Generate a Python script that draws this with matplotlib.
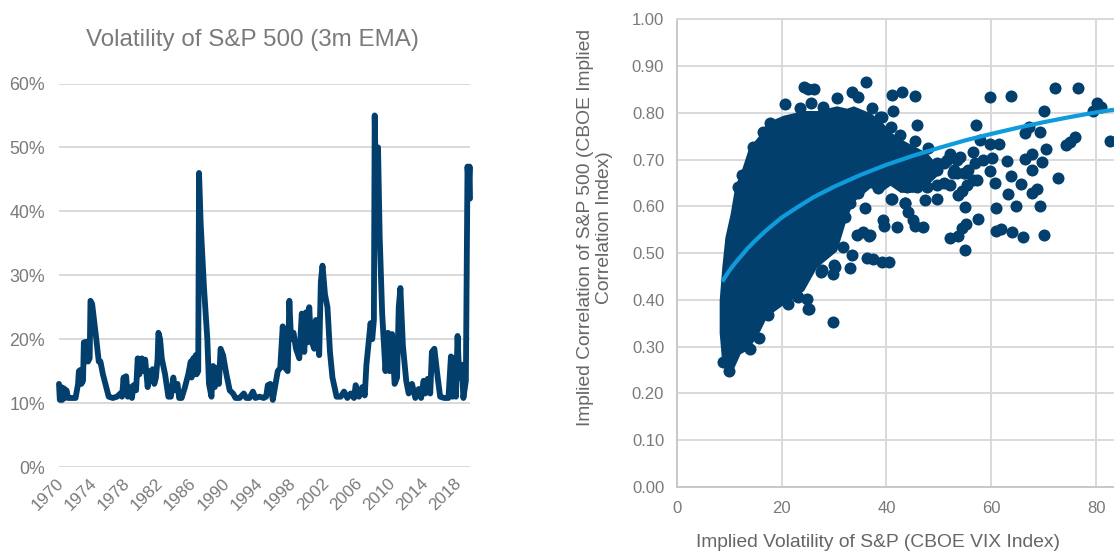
import matplotlib
matplotlib.use("Agg")
import matplotlib.pyplot as plt
from matplotlib.transforms import ScaledTranslation

plt.rcParams['font.family'] = ['Liberation Sans', 'DejaVu Sans']

NAVY = '#023f6d'
SKY = '#0f9bdc'
GRID = '#d9d9d9'
TXT = '#7a7a7a'
LAB = '#666666'

title_left = 'Volatility of S&P 500 (3m EMA)'
ylabel_right = 'Implied Correlation of S&P 500 (CBOE Implied\nCorrelation Index)'
xlabel_right = 'Implied Volatility of S&P (CBOE VIX Index)'

year_ticks = [1970, 1974, 1978, 1982, 1986, 1990, 1994, 1998, 2002, 2006, 2010, 2014, 2018]
vol_ticks = [0, 10, 20, 30, 40, 50, 60]

years = [1970.0, 1970.1, 1970.3, 1970.4, 1970.6, 1970.7, 1970.9, 1971.1, 1971.5, 1972.0, 1972.3, 1972.4, 1972.6,
         1972.7, 1972.9, 1973.0, 1973.2, 1973.3, 1973.5, 1973.7, 1973.8, 1974.0, 1974.5, 1974.8, 1975.0, 1975.3,
         1975.7, 1976.0, 1976.5, 1977.0, 1977.4, 1977.6, 1977.8, 1977.9, 1978.1, 1978.3, 1978.5, 1978.8, 1979.0,
         1979.3, 1979.5, 1979.7, 1980.0, 1980.2, 1980.4, 1980.7, 1980.9, 1981.1, 1981.3, 1981.5, 1981.7, 1981.9,
         1982.0, 1982.2, 1982.4, 1982.8, 1983.2, 1983.5, 1983.8, 1984.0, 1984.3, 1984.5, 1984.8, 1985.2, 1985.6,
         1985.9, 1986.0, 1986.2, 1986.3, 1986.5, 1986.6, 1986.8, 1986.9, 1987.1, 1987.5, 1987.9, 1988.1, 1988.4,
         1988.6, 1988.8, 1989.0, 1989.3, 1989.5, 1989.8, 1990.2, 1990.6, 1991.0, 1991.3, 1991.8, 1992.3, 1992.6,
         1993.0, 1993.4, 1993.7, 1994.2, 1994.7, 1995.0, 1995.2, 1995.5, 1995.8, 1996.0, 1996.4, 1996.7, 1997.0,
         1997.3, 1997.6, 1997.8, 1998.0, 1998.3, 1998.6, 1999.0, 1999.3, 1999.6, 1999.8, 2000.0, 2000.2, 2000.4,
         2000.8, 2001.0, 2001.4, 2001.6, 2001.8, 2002.1, 2002.4, 2002.7, 2003.0, 2003.5, 2004.0, 2004.4, 2004.8,
         2005.2, 2005.6, 2005.8, 2006.2, 2006.6, 2006.9, 2007.1, 2007.4, 2007.6, 2007.8, 2008.0, 2008.1, 2008.3,
         2008.5, 2008.7, 2009.0, 2009.4, 2009.7, 2009.9, 2010.2, 2010.5, 2010.8, 2011.0, 2011.2, 2011.5, 2011.9,
         2012.2, 2012.6, 2013.0, 2013.4, 2013.7, 2014.0, 2014.2, 2014.5, 2014.8, 2015.0, 2015.3, 2015.7, 2016.0,
         2016.5, 2017.0, 2017.3, 2017.5, 2017.7, 2017.9, 2018.1, 2018.3, 2018.6, 2018.8, 2019.1, 2019.3, 2019.45,
         2019.55, 2019.6]
vols = [13, 10.5, 12.5, 10.5, 12.3, 10.8, 12, 10.8, 10.8, 10.8, 13, 15, 15.2,
        13, 13.5, 19.5, 16.5, 19.6, 16.5, 17, 26, 25.5, 20, 16.5, 16.5, 14.5,
        12.5, 11, 10.8, 11, 11.5, 11, 14, 11.5, 14.2, 11, 12.5, 10.8, 12.8,
        12, 17, 14.5, 17, 15, 16.8, 12.5, 15, 13.5, 15.3, 13, 14, 17,
        21, 20, 17, 14.5, 11, 11, 14, 12, 13, 10.8, 10.8, 12.5, 14.5,
        16.5, 14, 17, 14.5, 17.5, 14.5, 15, 46, 38, 28, 20, 13, 11,
        15.8, 12.5, 15.5, 13, 18.5, 17.5, 14.5, 12, 11.5, 10.8, 10.8, 11.5, 10.8,
        10.8, 11.8, 10.8, 11, 10.8, 11, 12.8, 13, 10.5, 12, 15, 15.5, 22,
        15.5, 15, 26, 20, 21, 18.5, 17, 24, 18, 24.2, 19.5, 25, 20,
        18.5, 23, 17.5, 29, 31.5, 27, 25, 18, 14, 11, 11, 11.8, 10.8,
        11.5, 10.8, 12.8, 11, 12.5, 11.2, 16, 20, 22.5, 20, 23, 55, 40,
        50, 36, 24, 15, 21, 15, 20.8, 13, 14, 25, 28, 19, 13.5,
        11.5, 13, 10.8, 12.2, 10.8, 13.5, 11.5, 13.8, 11.5, 18, 18.5, 14, 11,
        10.8, 10.8, 17.3, 11, 17, 11, 20.5, 14, 16, 10.8, 13.5, 47, 44,
        47, 42]

# Points that can be read one by one, outside the solid cloud and along its rim
vix_points = [36.1, 24.2, 25.1, 26.1, 20.7, 25.6, 30.5, 33.5, 34.6, 41, 43, 45.5, 59.8, 63.7, 72.1, 76.5, 80.1, 81,
              79.3, 70.1, 82.6, 57, 67.1, 66.4, 69.2, 45.8, 57.9, 59.8, 61.5, 70.4, 76, 75.1, 74.3, 56.6, 67.7, 66.4,
              69.7, 62.9, 60.1, 58.5, 56.9, 67.8, 59.8, 63.7, 72.8, 60.7, 65.6, 68.7, 67.7, 63.1, 69.3, 64.7, 60.9,
              54.9, 57.5, 55.2, 54.4, 53.7, 52.1, 55, 60.9, 61.8, 64, 66.1, 70.1, 36, 39.3, 39.5, 42, 40.8, 43.6, 44.2,
              45.1, 45.5, 46.9, 47.4, 49.6, 53.7, 50.9, 55.3, 56.6, 53.4, 55, 50.9, 53.4, 52.1, 48, 45.5, 42.5, 40.9,
              41.3, 37.2, 38.8, 36.7, 35.6, 34.3, 31.8, 33.4, 33.1, 29.9, 36.2, 37.5, 39.1, 40.4, 30.2, 29.9, 27.7,
              25.1, 24.8, 22.9, 21.3, 17.5, 15.7, 14, 10,
              23.5, 27.9, 39.1, 17.8, 16.5, 14.6, 12.4, 11.7, 38.8, 38.4, 41, 43.5, 52.7, 34.6, 33, 32.1, 36.9,
              8.9, 23.2, 25.2, 27.6, 30, 10.5, 10.3, 9.7, 9.7, 9.7,
              47.7, 49.6, 45.8, 43.9, 52.1, 54.4, 52.8, 49.6, 51.5, 49.6, 54.7, 55.6, 57.2, 54]
corr_points = [.865, .855, .852, .852, .818, .822, .831, .845, .833, .838, .845, .835, .833, .836, .854, .853, .82, .813,
               .805, .804, .74, .774, .77, .756, .758, .773, .742, .733, .733, .723, .748, .738, .731, .716, .711, .701,
               .694, .696, .703, .699, .692, .678, .676, .664, .66, .649, .647, .637, .628, .627, .6, .6, .596,
               .599, .572, .562, .553, .537, .533, .507, .548, .551, .546, .535, .538, .596, .57, .558, .556, .616, .607, .589,
               .571, .557, .555, .614, .616, .624, .649, .646, .656, .671, .671, .692, .699, .713, .724, .74, .753, .77,
               .803, .81, .792, .537, .546, .539, .514, .496, .469, .352, .49, .488, .482, .482, .471, .455, .463,
               .38, .403, .408, .391, .368, .319, .294, .248,
               .81, .813, .792, .778, .76, .728, .667, .642, .746, .639, .615, .607, .671, .628, .607, .578, .539,
               .268, .407, .381, .46, .475, .532, .468, .4, .364, .307,
               .642, .646, .642, .642, .646, .632, .678, .678, .699, .692, .671, .678, .656, .706]

# Extent of the solid cloud, where single points cannot be told apart
vix_cloud = [8.1, 8.6, 9.2, 10.2, 11.1, 12.1, 13.7, 15.9, 17.2, 20.3, 24.2, 26.7, 30.5, 32.4, 33.7, 36.9, 38.8, 40.7,
             42.6, 45.1, 47.7, 49.6]
corr_cloud_high = [.40, .471, .535, .585, .645, .67, .725, .755, .78, .795, .805, .805, .815, .81, .815, .80, .785,
                   .76, .745, .73, .715, .69]
corr_cloud_low = [.33, .265, .25, .24, .26, .285, .295, .335, .365, .39, .42, .47, .505, .575, .61, .64, .63,
                  .645, .63, .63, .645, .665]

vix_fit = [8.9, 10, 11, 12, 13.5, 15, 17, 20, 23, 26, 30, 35, 40, 45, 50, 55, 60, 65, 70, 75, 80, 83]
corr_fit = [.443, .462, .477, .49, .51, .527, .548, .576, .598, .619, .642, .667, .689, .708, .725, .741, .755, .768,
            .78, .791, .801, .806]

vix_ticks = [0, 20, 40, 60, 80]
corr_ticks = [0, .1, .2, .3, .4, .5, .6, .7, .8, .9, 1.0]

W, H = 1114, 551
fig = plt.figure(figsize=(W / 100, H / 100), dpi=100)

# Left panel
ax = fig.add_axes([59 / W, 1 - 467 / H, 411 / W, (467 - 83.5) / H])
ax.plot(years, vols, color=NAVY, lw=4.2, solid_joinstyle='round', solid_capstyle='round', clip_on=False, zorder=3)
ax.set_xlim(1970, 2019.6)
ax.set_ylim(0, 60)
ax.set_yticks(vol_ticks)
ax.set_yticklabels([f'{v}%' for v in vol_ticks], fontsize=12.8, color=TXT)
ax.set_xticks(year_ticks)
ax.set_xticklabels(year_ticks, rotation=45, ha='right', rotation_mode='anchor', fontsize=12.3, color=TXT)
ax.tick_params(axis='y', length=0, pad=10)
ax.tick_params(axis='x', length=0, pad=6)
shift = ScaledTranslation(-2 / 72, 0, fig.dpi_scale_trans)
for lab in ax.get_xticklabels():
    lab.set_transform(lab.get_transform() + shift)
ax.grid(axis='y', color=GRID, lw=1.4)
ax.set_axisbelow(True)
for s in ax.spines.values():
    s.set_visible(False)
fig.text(252 / W, 1 - 40 / H, title_left, ha='center', va='center', fontsize=17.4, color=TXT)

# Right panel
ax2 = fig.add_axes([676.7 / W, 1 - 487 / H, (W - 676.7) / W, (487 - 19.3) / H])
ax2.fill_between(vix_cloud, corr_cloud_low, corr_cloud_high, color=NAVY, lw=0, zorder=2)
ax2.scatter(vix_points, corr_points, s=75, color=NAVY, lw=0, zorder=3)
ax2.plot(vix_fit, corr_fit, color=SKY, lw=3.0, zorder=4)
ax2.set_xlim(0, 83.4)
ax2.set_ylim(0, 1)
ax2.set_xticks(vix_ticks)
ax2.set_yticks(corr_ticks)
ax2.set_yticklabels([f'{v:.2f}' for v in corr_ticks], fontsize=12, color=TXT)
ax2.set_xticklabels(vix_ticks, fontsize=12, color=TXT)
ax2.tick_params(axis='y', length=0, pad=9)
ax2.tick_params(axis='x', length=0, pad=10)
ax2.grid(color=GRID, lw=1.4)
ax2.set_axisbelow(True)
for name, s in ax2.spines.items():
    s.set_color(GRID)
    s.set_linewidth(1.4)
ax2.spines['right'].set_visible(False)
ax2.spines['left'].set_color('#c8c8c8')
ax2.spines['bottom'].set_color('#c8c8c8')
fig.text(595 / W, 1 - 228 / H, ylabel_right, rotation=90, ha='center', va='center', fontsize=13.9, color=LAB,
         linespacing=1.15, multialignment='center')
fig.text(878.5 / W, 1 - 542.5 / H, xlabel_right, ha='center', va='center', fontsize=13.9, color=LAB)

fig.savefig('out.png', dpi=100, facecolor='white')
